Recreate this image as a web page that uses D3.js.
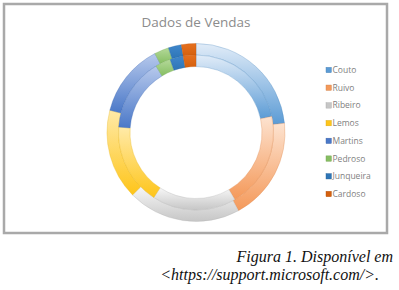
<!DOCTYPE html>
<html lang="pt">
<head>
  <meta charset="UTF-8">
  <script src="https://cdn.jsdelivr.net/npm/d3@7/dist/d3.min.js"></script>
  <style>
    body { margin: 0; background: #fff; }
    .legend text { font-family: "Open Sans", "Liberation Sans", sans-serif; font-size: 8.5px; fill: #7f7f7f; }
    .title { font-family: "Open Sans", "Liberation Sans", sans-serif; font-size: 13.5px; fill: #8c8c8c; }
    .caption { font-family: "Liberation Serif", serif; font-style: italic; font-size: 16px; fill: #111; }
  </style>
</head>
<body>
<svg></svg>
<script>
  // vendedores e valores
  var categories = ["Couto", "Ruivo", "Ribeiro", "Lemos", "Martins", "Pedroso", "Junqueira", "Cardoso"];
  var outerValues = [84, 67.5, 74, 59, 48, 9.5, 8.5, 9.5];
  var innerValues = [78, 72, 63, 61, 55, 11.5, 10, 9.5];
  var lightColors = ["#e1ecf8", "#fde3d0", "#f7f7f7", "#ffeaa8", "#b7c9ec", "#b4d99a", "#3f87cc", "#e6701f"];
  var darkColors  = ["#5b9bd5", "#f4995a", "#c6c6c6", "#fec51a", "#4a78c8", "#86be62", "#2e75b6", "#d4600e"];

  var width = 399, height = 290;
  var svg = d3.select("svg").attr("width", width).attr("height", height);

  // moldura do gráfico
  svg.append("rect")
    .attr("x", 4).attr("y", 4).attr("width", 383).attr("height", 229)
    .attr("fill", "#fff").attr("stroke", "#a9a9a9").attr("stroke-width", 2.5);

  svg.append("text").attr("class", "title")
    .attr("x", 196).attr("y", 27).attr("text-anchor", "middle")
    .text("Dados de Vendas");

  var defs = svg.append("defs");
  categories.forEach(function(c, i) {
    var g = defs.append("linearGradient").attr("id", "grad" + i)
      .attr("x1", 0).attr("y1", 0).attr("x2", 0).attr("y2", 1);
    g.append("stop").attr("offset", "0%").attr("stop-color", lightColors[i]);
    g.append("stop").attr("offset", "100%").attr("stop-color", darkColors[i]);
  });

  var pie = d3.pie().sort(null).value(function(d) { return d; });
  var cx = 196, cy = 132.5;
  var chart = svg.append("g").attr("transform", "translate(" + cx + "," + cy + ")");

  var rings = [
    { values: outerValues, r0: 77.5, r1: 89 },
    { values: innerValues, r0: 66, r1: 77.5 }
  ];

  rings.forEach(function(ring) {
    var arc = d3.arc().innerRadius(ring.r0).outerRadius(ring.r1);
    chart.append("g").selectAll("path")
      .data(pie(ring.values))
      .enter().append("path")
      .attr("d", arc)
      .attr("fill", function(d, i) { return "url(#grad" + i + ")"; })
      .attr("stroke", function(d, i) { return d3.color(darkColors[i]).darker(0.3); })
      .attr("stroke-opacity", 0.45)
      .attr("stroke-width", 0.7);
  });

  // legenda
  var legend = svg.append("g").attr("class", "legend");
  var ly = d3.scalePoint().domain(categories).range([70, 194]);
  var item = legend.selectAll("g").data(categories).enter().append("g")
    .attr("transform", function(d) { return "translate(326," + ly(d) + ")"; });
  item.append("rect")
    .attr("x", 0).attr("y", -2.7).attr("width", 5.4).attr("height", 5.4)
    .attr("fill", function(d, i) { return darkColors[i]; })
    .attr("stroke", function(d, i) { return d3.color(darkColors[i]).darker(0.5); })
    .attr("stroke-width", 0.4);
  item.append("text").attr("x", 6.5).attr("y", 3).text(function(d) { return d; });

  svg.append("text").attr("class", "caption")
    .attr("x", 393).attr("y", 262).attr("text-anchor", "end")
    .text("Figura 1. Disponível em");
  svg.append("text").attr("class", "caption")
    .attr("x", 379).attr("y", 280).attr("text-anchor", "end")
    .text("<https://support.microsoft.com/>.");
</script>
</body>
</html>
